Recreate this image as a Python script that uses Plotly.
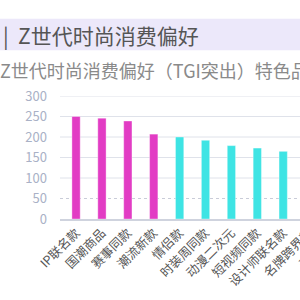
import plotly.graph_objects as go

categories = ["IP联名款", "国潮商品", "赛事同款", "潮流新款", "情侣款", "时装周同款",
              "动漫二次元", "短视频同款", "设计师联名款", "名牌跨界款", "元宇宙款"]
values = [250, 246, 239, 207, 200, 192, 179, 173, 165, 158, 150]
colors = ["#e23cc4"] * 4 + ["#3ee4e4"] * 7
grid_solid = [100, 150, 200, 250, 300]
grid_dot = [50]

W, H = 360, 300
L, R, T, B = 60, 10, 96, 67
pw = W - L - R
ph = H - T - B

def px_x(p):
    return (p - L) / pw

def px_y(p):
    return (H - B - p) / ph

font = "Noto Sans CJK SC, Noto Sans, sans-serif"

fig = go.Figure(go.Bar(
    x=categories, y=values,
    marker=dict(color=colors, line=dict(width=0.6, color="rgba(255,255,255,0.6)")),
    width=0.32,
))

shapes = [
    dict(type="rect", xref="paper", yref="paper",
         x0=px_x(0), x1=px_x(W), y0=px_y(45), y1=px_y(10),
         fillcolor="#ece8fa", line=dict(width=0), layer="below"),
]
for g in grid_solid:
    shapes.append(dict(type="line", xref="paper", yref="y", x0=0, x1=1, y0=g, y1=g,
                       line=dict(color="#dfe2ea", width=1), layer="below"))
for g in grid_dot:
    shapes.append(dict(type="line", xref="paper", yref="y", x0=0, x1=1, y0=g, y1=g,
                       line=dict(color="#c9ccd8", width=1, dash="dot"), layer="below"))

annotations = [
    dict(text="|  Z世代时尚消费偏好", xref="paper", yref="paper",
         x=px_x(1), y=px_y(28), xanchor="left", yanchor="middle", showarrow=False,
         font=dict(family=font, size=21, color="#555555")),
    dict(text="Z世代时尚消费偏好（TGI突出）特色品类", xref="paper", yref="paper",
         x=px_x(-2), y=px_y(67), xanchor="left", yanchor="middle", showarrow=False,
         font=dict(family=font, size=18, color="#8a8a8a")),
]

fig.update_layout(
    width=W, height=H,
    margin=dict(l=L, r=R, t=T, b=B, pad=0),
    paper_bgcolor="white", plot_bgcolor="white",
    showlegend=False,
    shapes=shapes, annotations=annotations,
    font=dict(family=font),
    xaxis=dict(range=[-0.62, 10.58], tickangle=-45, showgrid=False,
               showline=True, linecolor="#cfd3de", linewidth=1.5,
               ticks="", tickfont=dict(size=12.5, color="#555555")),
    yaxis=dict(range=[0, 300], dtick=50, showgrid=False, zeroline=False,
               showline=False, ticks="", ticklabelstandoff=12,
               tickfont=dict(size=13, color="#a9b1c6")),
)

fig.write_html("out.html", post_script="document.body.style.margin='0';document.body.style.overflow='hidden';document.documentElement.style.overflow='hidden';")
